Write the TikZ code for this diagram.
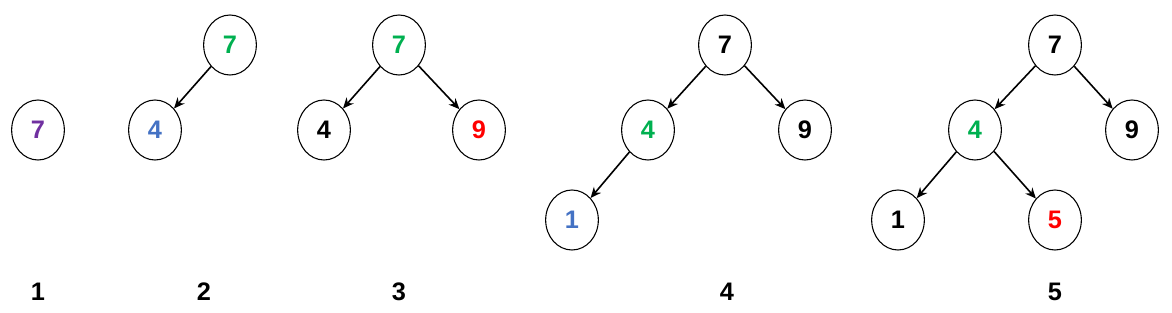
\documentclass[tikz,border=0pt]{standalone}
\usepackage{fontspec}
\setmainfont{Liberation Sans}
\usetikzlibrary{shapes.geometric,arrows.meta}
\definecolor{cpurple}{HTML}{7030A0}
\definecolor{cblue}{HTML}{4472C4}
\definecolor{cgreen}{HTML}{00B050}
\definecolor{cred}{HTML}{FF0000}
\tikzset{
  tn/.style={ellipse,draw,line width=0.8pt,minimum width=39.5pt,minimum height=45pt,inner sep=0pt,font=\fontsize{19}{19}\selectfont\bfseries},
  lbl/.style={font=\fontsize{19}{19}\selectfont\bfseries},
  ar/.style={-{Stealth[length=8pt,width=7pt]},line width=1.2pt}
}
\begin{document}
\begin{tikzpicture}[x=0.75pt,y=-0.75pt]
\useasboundingbox (0,0) rectangle (1172,312);
% tree 1
\node[tn,text=cpurple] (a1) at (38,130) {7};
% tree 2
\node[tn,text=cgreen] (b7) at (230,45) {7};
\node[tn,text=cblue] (b4) at (155,130) {4};
\draw[ar] (b7) -- (b4);
% tree 3
\node[tn,text=cgreen] (c7) at (399,45) {7};
\node[tn] (c4) at (324,130) {4};
\node[tn,text=cred] (c9) at (479,130) {9};
\draw[ar] (c7) -- (c4);
\draw[ar] (c7) -- (c9);
% tree 4
\node[tn] (d7) at (725,45) {7};
\node[tn,text=cgreen] (d4) at (648,130) {4};
\node[tn] (d9) at (805,130) {9};
\node[tn,text=cblue] (d1) at (572,220) {1};
\draw[ar] (d7) -- (d4);
\draw[ar] (d7) -- (d9);
\draw[ar] (d4) -- (d1);
% tree 5
\node[tn] (e7) at (1055,45) {7};
\node[tn,text=cgreen] (e4) at (975,130) {4};
\node[tn] (e9) at (1132,130) {9};
\node[tn] (e1) at (898,220) {1};
\node[tn,text=cred] (e5) at (1055,220) {5};
\draw[ar] (e7) -- (e4);
\draw[ar] (e7) -- (e9);
\draw[ar] (e4) -- (e1);
\draw[ar] (e4) -- (e5);
% step labels
\node[lbl] (l1) at (38,292) {1};
\node[lbl] (l2) at (204,292) {2};
\node[lbl] (l3) at (399,292) {3};
\node[lbl] (l4) at (727,292) {4};
\node[lbl] (l5) at (1055,292) {5};
\end{tikzpicture}
\end{document}
